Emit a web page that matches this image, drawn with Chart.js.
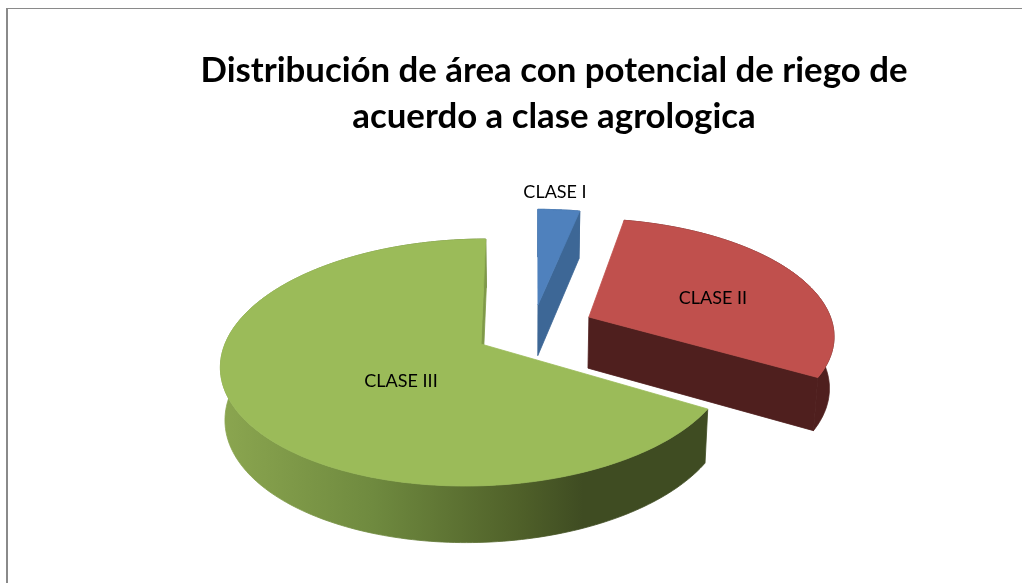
<!doctype html>
<html>
<head>
<meta charset="utf-8" />
<title>Distribución de área</title>
<script src="https://cdn.jsdelivr.net/npm/chart.js@4"></script>
<style>
    html, body { margin: 0; padding: 0; background: #fff; overflow: hidden; }
    #frame { position: absolute; left: 6px; top: 8px; width: 1016px; height: 575px; border-left: 2px solid #8a8a8a; border-top: 1px solid #8a8a8a; box-sizing: border-box; }
    #wrap { position: absolute; left: 86px; top: 0; width: 936px; height: 583px; }
</style>
</head>
<body>
<div id="frame"></div>
<div id="wrap"><canvas id="pieChart" width="936" height="583"></canvas></div>
<script>
    var titleLines = ["Distribución de área con potencial de riego de", "acuerdo a clase agrologica"];
    var categories = ["CLASE I", "CLASE II", "CLASE III"];
    var values = [3.2, 30.1, 66.7];
    var topColors = ["#4f81bd", "#c0504d", "#9bbb59"];

    // fake 3d settings, all in canvas px (canvas starts at x=86)
    var view = { cx: 391, cy: 344, r: 252, squash: 0.479, persp: 0.15, shear: 10, depth: 52, shrink: 0.985, vx: 440 };
    var explode = [[0.2365, -0.34], [0.442, -0.2313], [0, 0]];
    var apexShift = [1, 2, 4];
    var labelPos = [[469, 192], [627, 298], [315, 381]];

    // world (u right, v towards viewer) to screen, h=1 is the bottom of the slab
    function project(u, v, h) {
        var s = 1 / (1 - view.persp * v);
        var x = view.cx + view.r * u * s - view.shear * v * s;
        var y = view.cy + view.r * view.squash * v * s;
        if (h) {
            x = view.vx + (x - view.vx) * view.shrink;
            y += view.depth * (0.5 + 0.5 * s);
        }
        return [x, y];
    }

    function poly(ctx, pts, fill) {
        ctx.beginPath();
        pts.forEach(function (p, i) {
            if (i == 0) ctx.moveTo(p[0], p[1]);
            else ctx.lineTo(p[0], p[1]);
        });
        ctx.closePath();
        ctx.fillStyle = fill;
        ctx.fill();
        // same colour stroke hides the seams between faces
        ctx.strokeStyle = fill;
        ctx.lineWidth = 0.8;
        ctx.stroke();
    }

    var pie3d = {
        id: 'pie3d',
        beforeDatasetsDraw: function (chart) {
            var ctx = chart.ctx;
            var arcs = chart.getDatasetMeta(0).data;

            var greenWall = ctx.createLinearGradient(140, 0, 560, 0);
            greenWall.addColorStop(0, "#8aa54f");
            greenWall.addColorStop(0.35, "#6f8a3f");
            greenWall.addColorStop(0.7, "#4f6029");
            greenWall.addColorStop(0.85, "#3f4c22");
            greenWall.addColorStop(1, "#3f4c22");
            var outerWalls = ["#3d6796", "#4f1f1e", greenWall];
            var edgeWalls = ["#3d6796", "#4f1f1e", "#7f9a48"];

            arcs.forEach(function (arc, i) {
                var a0 = arc.startAngle + Math.PI / 2;
                var a1 = arc.endAngle + Math.PI / 2;
                var ox = explode[i][0], oy = explode[i][1];
                var rim = [], rimLow = [];
                for (var n = 0; n <= 200; n++) {
                    var a = a0 + (a1 - a0) * n / 200;
                    rim.push(project(ox + Math.sin(a), oy - Math.cos(a), 0));
                    rimLow.push(project(ox + Math.sin(a), oy - Math.cos(a), 1));
                }
                var last = rim.length - 1;
                var apex = project(ox, oy, 0), apexLow = project(ox, oy, 1);
                apex[0] += apexShift[i];
                apexLow[0] += apexShift[i];

                // walls first, the top face hides whatever is behind it
                poly(ctx, rim.concat(rimLow.slice().reverse()), outerWalls[i]);
                poly(ctx, [rim[last], rimLow[last], apexLow, apex], edgeWalls[i]);
                poly(ctx, [apex].concat(rim), topColors[i]);
            });

            ctx.fillStyle = "#000";
            ctx.font = "18px Lato";
            ctx.textAlign = "center";
            ctx.textBaseline = "middle";
            categories.forEach(function (c, i) {
                ctx.fillText(c, labelPos[i][0], labelPos[i][1]);
            });
            return false;
        }
    };

    var ctx = document.getElementById('pieChart').getContext('2d');
    var myChart = new Chart(ctx, {
        type: 'pie',
        data: {
            labels: categories,
            datasets: [{
                data: values,
                backgroundColor: topColors
            }]
        },
        options: {
            responsive: false,
            animation: false,
            plugins: {
                legend: { display: false },
                tooltip: { enabled: false },
                title: {
                    display: true,
                    text: titleLines,
                    color: "#000",
                    font: { family: "Lato", size: 34.8, weight: "bold", lineHeight: 1.31 },
                    padding: { top: 48, bottom: 10 }
                }
            }
        },
        plugins: [pie3d]
    });
</script>
</body>
</html>
